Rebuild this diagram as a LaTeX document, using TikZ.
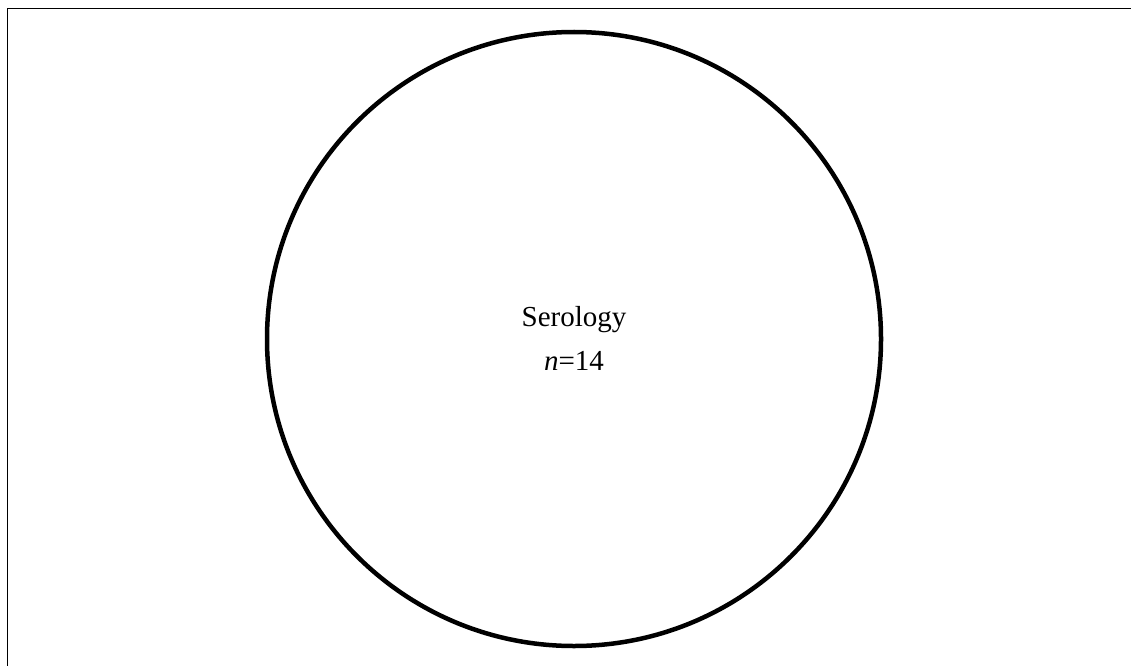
\documentclass[tikz,border=0pt]{standalone}
\usepackage{fontspec}
\setmainfont{Liberation Serif}
\begin{document}
\begin{tikzpicture}[x=1pt,y=-1pt,
  frameline/.style={line width=1.5pt,black},
  setcircle/.style={line width=4.5pt,black},
  lbl/.style={font=\fontsize{29}{34}\selectfont,anchor=base,inner sep=0pt}]
\useasboundingbox (0,0) rectangle (1131,666);
\coordinate (tl) at (7.5,8.5);
\coordinate (tr) at (1131,8.5);
\coordinate (bl) at (7.5,666);
\draw[frameline] (tr) -- (tl) -- (bl);
\node[setcircle,draw,circle,minimum size=614pt,inner sep=0pt] (c) at (574,339) {};
\node[lbl] (t1) at (574,326) {Serology};
\node[lbl] (t2) at (574,370) {\textit{n}=14};
\end{tikzpicture}
\end{document}
